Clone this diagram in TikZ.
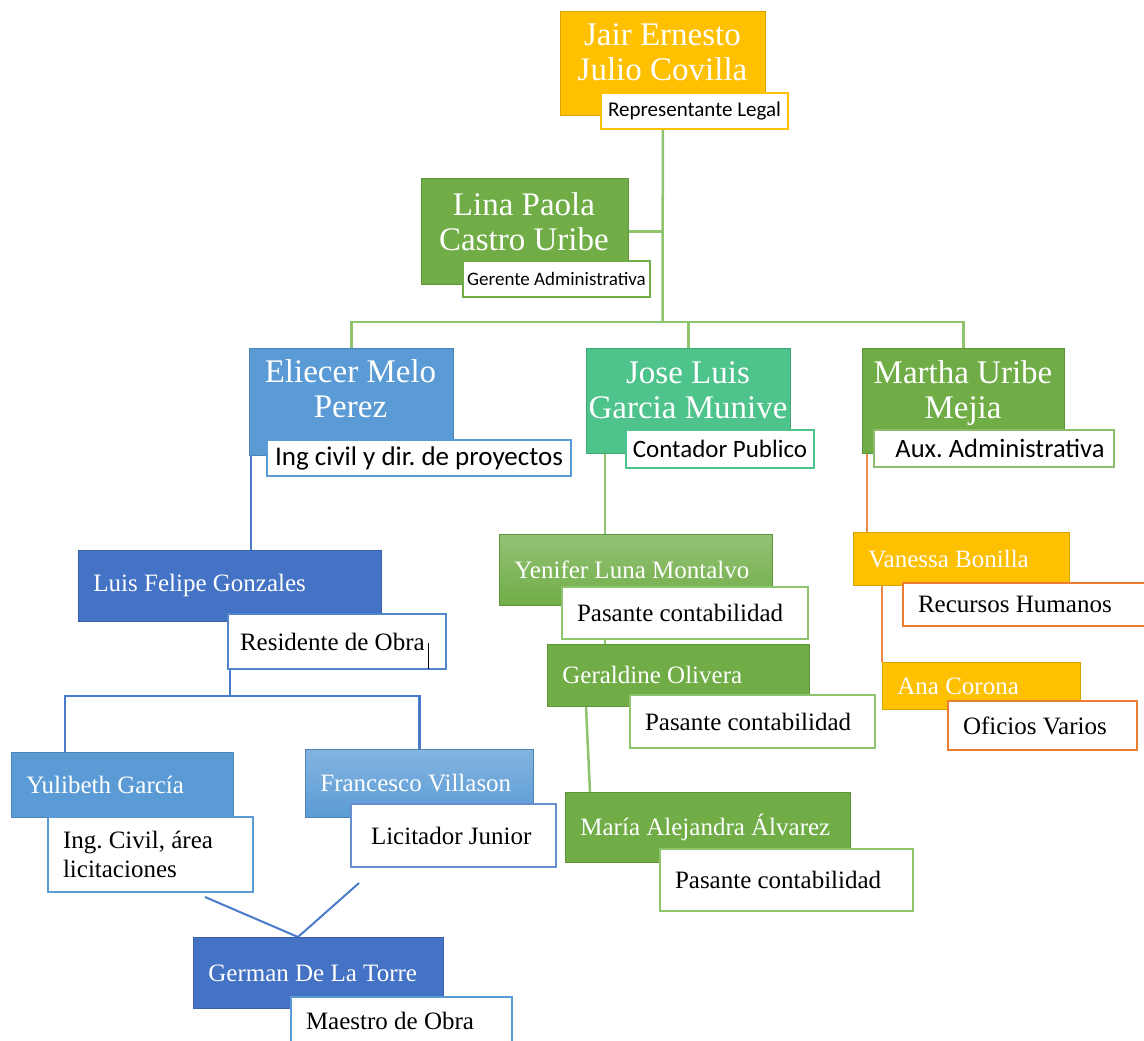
\documentclass[tikz,border=0pt]{standalone}
\usepackage{fontspec}
\setmainfont{Liberation Serif}
\newfontfamily\calfont{Carlito}
\usetikzlibrary{backgrounds}
\frenchspacing

\definecolor{gold}{HTML}{FFC000}
\definecolor{leaf}{HTML}{70AD47}
\definecolor{sky}{HTML}{5B9BD5}
\definecolor{navy}{HTML}{4472C4}
\definecolor{mint}{HTML}{4EC48C}
\definecolor{lineg}{HTML}{8FC46E}
\definecolor{lineb}{HTML}{4A7BCB}
\definecolor{lineo}{HTML}{EE8A4A}
\definecolor{tago}{HTML}{ED7D31}

\tikzset{
  namebox/.style={draw=#1!85!black, line width=0.8pt, fill=#1, text=white, anchor=north west, inner sep=0pt},
  bigname/.style={text=white, align=center, inner sep=0pt, font=\fontsize{33}{35}\selectfont},
  lowname/.style={namebox=#1, align=left, inner xsep=15pt, font=\fontsize{25}{29}\selectfont, execute at begin node={\spaceskip=0pt\relax}},
  toptag/.style 2 args={draw=#1, line width=2pt, fill=white, anchor=north west, inner sep=0pt, font=\calfont\fontsize{#2}{#2}\selectfont},
  lowtag/.style={draw=#1, line width=2pt, fill=white, anchor=north west, inner sep=0pt, inner xsep=15pt, align=left, font=\fontsize{25}{29}\selectfont, execute at begin node={\spaceskip=0pt\relax}},
  link/.style={line width=2.5pt, draw=#1},
}

\begin{document}
\begin{tikzpicture}[x=1pt,y=-1pt]
\useasboundingbox (0,0) rectangle (1144,1041);

% top levels
\node[namebox=gold, minimum width=205pt, minimum height=104pt] (jair) at (560,11) {};
\node[bigname] (jairtxt) at (662.5,52) {Jair Ernesto\\Julio Covilla};
\node[namebox=leaf, minimum width=207pt, minimum height=106pt] (lina) at (421,178) {};
\node[bigname] (linatxt) at (524,222) {Lina Paola\\Castro Uribe};
\node[namebox=sky, minimum width=204pt, minimum height=107pt] (eli) at (249,348) {};
\node[bigname] (elitxt) at (350.5,389) {Eliecer Melo\\Perez};
\node[namebox=mint, minimum width=204pt, minimum height=105pt] (jose) at (586,348) {};
\node[bigname] (josetxt) at (688,390) {Jose Luis\\Garcia Munive};
\node[namebox=leaf, minimum width=202pt, minimum height=105pt] (martha) at (862,348) {};
\node[bigname] (marthatxt) at (963,393) {Martha Uribe\\Mejia};

\node[toptag={gold}{21}, minimum width=187pt, minimum height=36pt] (jairtag) at (600,92) {Representante Legal};
\node[toptag={leaf}{19}, minimum width=187pt, minimum height=36pt] (linatag) at (462,260) {Gerente Administrativa};
\node[toptag={sky}{27}, minimum width=304pt, minimum height=36pt] (elitag) at (266,439) {Ing civil y dir. de proyectos};
\node[toptag={mint}{25}, minimum width=188pt, minimum height=38pt] (josetag) at (625,429) {Contador Publico};
\node[toptag={leaf!80!white}{26.5}, minimum width=240pt, minimum height=37pt] (marthatag) at (873,429) {\hspace{12pt}Aux. Administrativa};

% obra
\node[lowname=navy, minimum height=71pt, text width=273pt] (luis) at (78,550) {Luis Felipe Gonzales};
\node[lowname=sky, minimum height=65pt, text width=192pt] (yuli) at (11,752) {Yulibeth García};
\node[lowname=sky, top color=sky!75!white, bottom color=sky, minimum height=68pt, text width=198pt] (fran) at (305,749) {Francesco Villason};
\node[lowname=navy, minimum height=71pt, text width=220pt] (german) at (193,937) {German De La Torre};
\node[lowtag=sky!50!navy, minimum height=55pt, inner xsep=12pt, text width=194pt] (luistag) at (227,613) {Residente de Obra\rlap{\hspace{3pt}\raisebox{-19pt}[0pt][0pt]{\rule{1.5pt}{26pt}}}};
\node[lowtag=sky, minimum height=75pt, text width=175pt] (yulitag) at (47,816) {Ing. Civil, área\\licitaciones};
\node[lowtag=navy!80!white, minimum height=63pt, inner xsep=20pt, text width=165pt] (frantag) at (350,803) {Licitador Junior};
\node[lowtag=sky, minimum height=48pt, text width=191pt] (germantag) at (290,996) {Maestro de Obra};

% contabilidad
\node[lowname=leaf, top color=leaf!75!white, bottom color=leaf, minimum height=71pt, text width=243pt] (yeni) at (499,534) {Yenifer Luna Montalvo};
\node[lowname=leaf, minimum height=62pt, text width=232pt] (geral) at (547,644) {Geraldine Olivera};
\node[lowname=leaf, minimum height=70pt, text width=255pt] (maria) at (565,792) {María Alejandra Álvarez};
\node[lowtag=lineg, minimum height=52pt, text width=216pt] (yenitag) at (561,586) {Pasante contabilidad};
\node[lowtag=lineg, minimum height=53pt, text width=215pt] (geraltag) at (629,694) {Pasante contabilidad};
\node[lowtag=lineg, minimum height=62pt, text width=223pt] (mariatag) at (659,848) {Pasante contabilidad};

% administracion
\node[lowname=gold, minimum height=53pt, text width=186pt] (vane) at (853,532) {Vanessa Bonilla};
\node[lowname=gold, minimum height=47pt, text width=168pt] (ana) at (882,662) {Ana Corona};
\node[lowtag=tago, minimum height=43pt, text width=218pt] (vanetag) at (902,582) {Recursos Humanos};
\node[lowtag=tago, minimum height=49pt, text width=159pt] (anatag) at (947,700) {Oficios Varios};

\begin{scope}[on background layer]
\coordinate (bus) at (662.5,322);
\draw[link=lineg] (jair.south) -- (bus);
\draw[link=lineg] (lina.east) -- (lina.east -| jair.south);
\draw[link=lineg] (eli.north) |- (bus) -| (martha.north);
\draw[link=lineg] (jose.north) -- (jose.north |- bus);
\draw[link=lineb] ([xshift=2pt]eli.south west) -- ([xshift=2pt]eli.south west |- luis.north);
\path (luis.south) ++(0,74) coordinate (lbus);
\draw[link=lineb] (luis.south) -- (lbus);
\draw[link=lineb] ([xshift=54pt]yuli.north west) |- (lbus) -| (fran.north);
\coordinate (gtop) at ([xshift=105pt]german.north west);
\coordinate (yuliend) at (205,897);
\coordinate (franend) at (359,883);
\draw[link=lineb, line width=2pt] (yuliend) -- (gtop) -- (franend);
\draw[link=lineg] ([xshift=19pt]jose.south west) -- ([xshift=19pt]jose.south west |- geral.north);
\draw[link=lineg] ([xshift=39pt]geral.south west) -- ([xshift=25pt]maria.north west);
\draw[link=lineo, line width=2pt] ([xshift=5pt]martha.south west) -- ([xshift=5pt]martha.south west |- vane.north);
\draw[link=lineo, line width=2pt] ([xshift=29pt]vane.south west) -- ([xshift=29pt]vane.south west |- ana.north);
\end{scope}
\end{tikzpicture}
\end{document}
